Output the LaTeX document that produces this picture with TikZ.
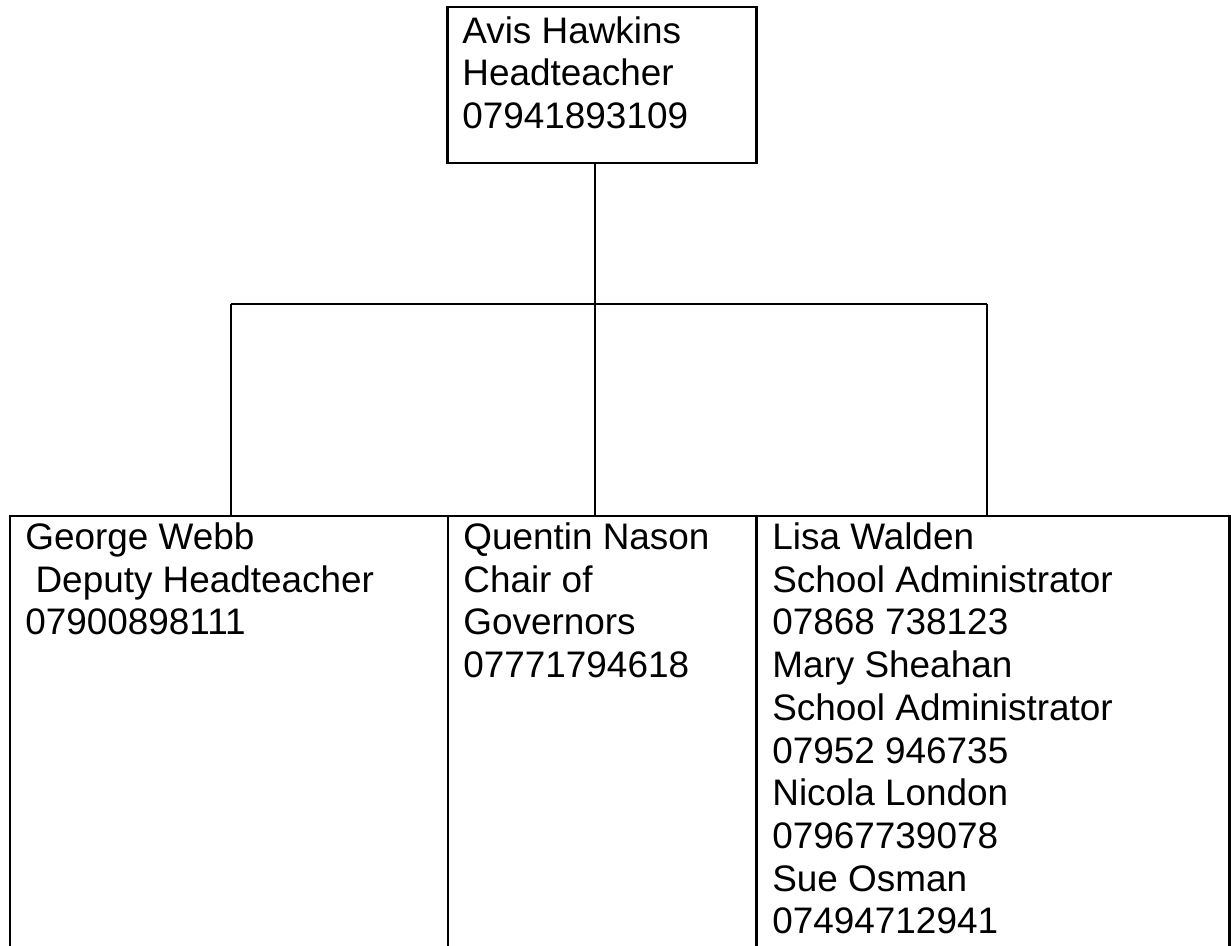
\documentclass[tikz,border=0pt]{standalone}
\usepackage{fontspec}
\setmainfont{Liberation Sans}
\usepackage{xcolor}
\usepackage{tikz}
\usetikzlibrary{positioning}
\definecolor{ink}{HTML}{000000}
\definecolor{paper}{HTML}{FFFFFF}
\tikzset{
  card/.style = {draw=ink, line width=0.052cm, inner sep=0pt, outer sep=0pt,
                 anchor=north west},
  link/.style = {draw=ink, line width=0.052cm},
  lbl/.style  = {font=\fontsize{21}{24.3}\selectfont, text=ink, align=left,
                 anchor=north west, inner sep=0pt},
}
\begin{document}
\begin{tikzpicture}
  \useasboundingbox (0,0) rectangle (24.62,18.90);
  \fill[paper] (0,0) rectangle (24.62,18.90);
  \clip (0,0) rectangle (24.62,18.90);

  % head of school
  \node[card, minimum width=6.18cm, minimum height=3.12cm] (head) at (8.95,18.76) {};
  \node[lbl] (headtxt) at (9.24,18.58) {Avis Hawkins\\Headteacher\\07941893109};

  % the three boxes below, cut off by the page
  \node[card, minimum width=8.76cm, minimum height=8.9cm] (deputy) at (0.20,8.58) {};
  \node[card, minimum width=6.17cm, minimum height=8.9cm] (chair)  at (8.96,8.58) {};
  \node[card, minimum width=9.46cm, minimum height=8.9cm] (office) at (15.13,8.58) {};

  \node[lbl] (deputytxt) at (0.50,8.45) {George Webb\\\ Deputy Headteacher\\07900898111};
  \node[lbl] (chairtxt)  at (9.26,8.45) {Quentin Nason\\Chair of\\Governors\\07771794618};
  \node[lbl] (officetxt) at (15.44,8.45)
    {Lisa Walden\\School Administrator\\07868 738123\\Mary Sheahan\\
     School Administrator\\07952 946735\\Nicola London\\07967739078\\
     Sue Osman\\07494712941};

  % branch lines
  \coordinate (hub) at (11.90,12.82);
  \coordinate (bl)  at (4.62,12.82);
  \coordinate (br)  at (19.74,12.82);
  \draw[link] (head.south -| hub) -- (hub);
  \draw[link] (bl) -- (br);
  \draw[link] (bl) -- (bl |- deputy.north);
  \draw[link] (hub) -- (hub |- chair.north);
  \draw[link] (br) -- (br |- office.north);
\end{tikzpicture}
\end{document}
